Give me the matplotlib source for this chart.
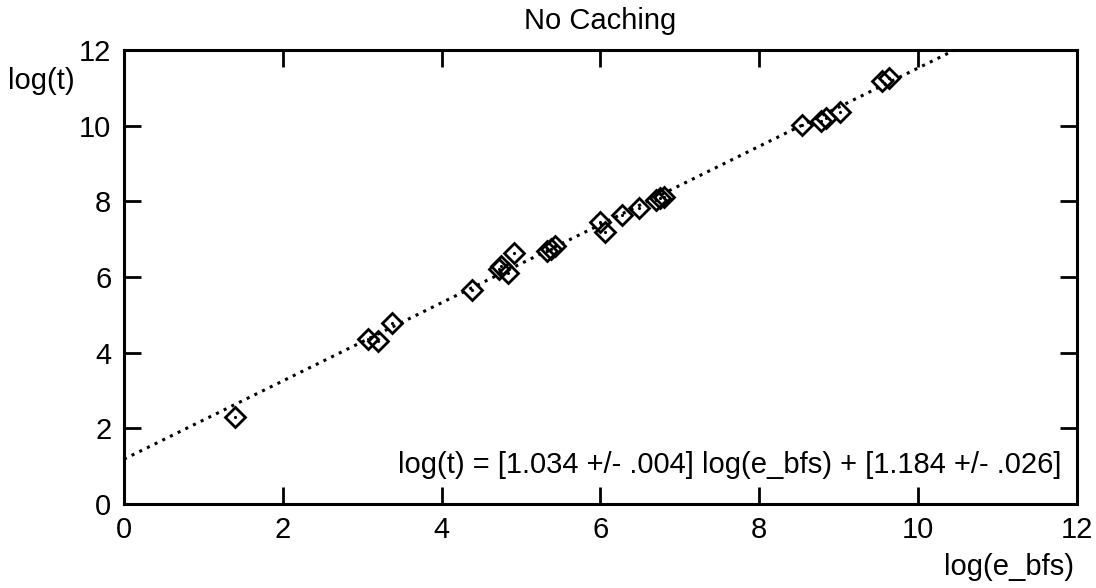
import numpy as np
import matplotlib
matplotlib.use('Agg')
import matplotlib.pyplot as plt

plt.rcParams['font.family'] = ['Liberation Sans', 'DejaVu Sans']

# measured points (log scale values)
log_ebfs = [1.40, 3.07, 3.20, 3.38, 4.38, 4.72, 4.75, 4.84, 4.91, 5.33, 5.38, 5.43,
            6.00, 6.06, 6.27, 6.48, 6.70, 6.75, 6.80, 8.54, 8.78, 8.84, 9.02, 9.55, 9.63]
log_t = [2.30, 4.37, 4.31, 4.79, 5.66, 6.20, 6.28, 6.11, 6.64, 6.68, 6.75, 6.82,
         7.46, 7.20, 7.65, 7.83, 8.03, 8.08, 8.12, 10.03, 10.12, 10.20, 10.37, 11.18, 11.25]

# fit
slope = 1.034
intercept = 1.184
fit_text = "log(t) = [1.034 +/- .004] log(e_bfs) + [1.184 +/- .026]"

ticks = [0, 2, 4, 6, 8, 10, 12]

fig = plt.figure(figsize=(10.96, 5.88), dpi=100)
ax = fig.add_axes([0.1131, 0.1429, 0.9827 - 0.1131, 0.915 - 0.1429])

xx = np.array([0, 12])
ax.plot(xx, slope * xx + intercept, color='black', lw=2.2, linestyle=(0, (1, 1.8)))
ax.plot(log_ebfs, log_t, linestyle='none', marker='D', ms=10, mfc='none',
        mec='black', mew=2)
ax.plot(log_ebfs, log_t, linestyle='none', marker='.', ms=2.5, color='black')

ax.set_xlim(0, 12)
ax.set_ylim(0, 12)
ax.set_xticks(ticks)
ax.set_yticks(ticks)
ax.tick_params(direction='in', length=12, width=2, labelsize=21,
               top=True, right=True, pad=9)
for s in ax.spines.values():
    s.set_linewidth(2.2)

ax.text(11.8, 1.03, fit_text, ha='right', va='center', fontsize=21)
ax.set_title("No Caching", fontsize=21, pad=15)
fig.text(0.038, 0.862, "log(t)", ha='center', va='center', fontsize=21)
fig.text(0.98, 0.036, "log(e_bfs)", ha='right', va='center', fontsize=21)

fig.savefig('out.png', dpi=100)
